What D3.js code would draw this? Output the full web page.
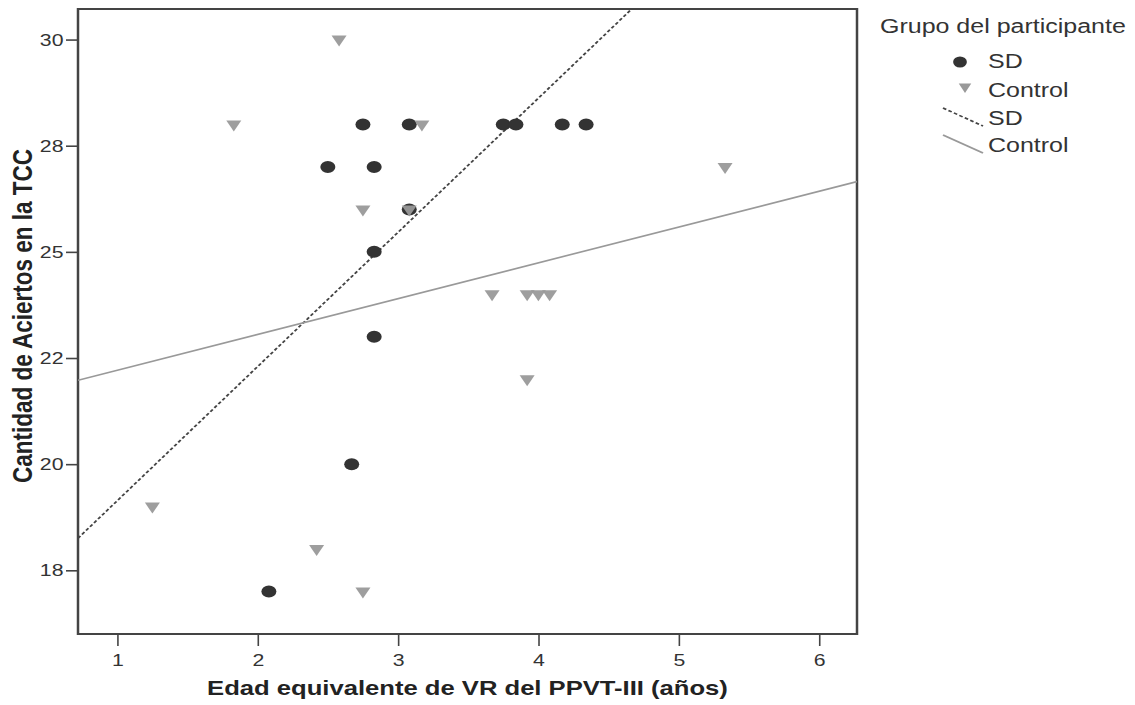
<!DOCTYPE html>
<html>
<head>
<meta charset="utf-8">
<script src="https://cdn.jsdelivr.net/npm/d3@7"></script>
<style>
  body { margin: 0; background: #fff; }
  text { font-family: "Liberation Sans", Arial, sans-serif; }
</style>
</head>
<body>
<script>
// datos
const sdX = [2.75, 3.08, 3.75, 3.84, 4.17, 4.34, 2.50, 2.83, 3.08, 2.83, 2.83, 2.67, 2.08];
const sdY = [28, 28, 28, 28, 28, 28, 27, 27, 26, 25, 23, 20, 17];
const ctrlX = [2.58, 1.83, 3.17, 2.75, 3.08, 5.33, 3.67, 3.92, 4.00, 4.08, 3.92, 1.25, 2.42, 2.75];
const ctrlY = [30, 28, 28, 26, 26, 27, 24, 24, 24, 24, 22, 19, 18, 17];
// recta de ajuste [intercepto, pendiente]
const fitSD = [15.98, 3.16];
const fitCtrl = [21.37, 0.843];
const xTicks = [1, 2, 3, 4, 5, 6];
const yTicks = [17.5, 20, 22.5, 25, 27.5, 30];
const yTickLabels = ["18", "20", "22", "25", "28", "30"];
const groups = ["SD", "Control"];

const W = 1135, H = 705;
const sx = 1.25; // la imagen esta estirada en horizontal
const vw = W / sx;

const svg = d3.select('body').append('svg')
  .attr('width', W).attr('height', H)
  .attr('viewBox', `0 0 ${vw} ${H}`)
  .attr('preserveAspectRatio', 'none');

const pLeft = 78 / sx, pRight = 857 / sx, pTop = 9, pBottom = 634;

const x = d3.scaleLinear().domain([0.72, 6.27]).range([pLeft, pRight]);
const y = d3.scaleLinear().domain([16.0, 30.72]).range([pBottom, pTop]);

svg.append('clipPath').attr('id', 'clip')
  .append('rect').attr('x', pLeft).attr('y', pTop)
  .attr('width', pRight - pLeft).attr('height', pBottom - pTop);

// marco
svg.append('rect')
  .attr('x', pLeft).attr('y', pTop)
  .attr('width', pRight - pLeft).attr('height', pBottom - pTop)
  .attr('fill', 'none').attr('stroke', '#444').attr('stroke-width', 2);

// ejes
const xAxis = svg.append('g')
  .attr('transform', `translate(0,${pBottom})`)
  .call(d3.axisBottom(x).tickValues(xTicks).tickSize(12).tickPadding(8).tickFormat(d3.format('d')));
const yAxis = svg.append('g')
  .attr('transform', `translate(${pLeft},0)`)
  .call(d3.axisLeft(y).tickValues(yTicks).tickSize(12 / sx).tickPadding(2)
    .tickFormat((d, i) => yTickLabels[i]));
[xAxis, yAxis].forEach(a => {
  a.select('.domain').remove();
  a.selectAll('line').attr('stroke', '#444');
  a.selectAll('text').attr('font-size', 17).attr('fill', '#333')
    .attr('font-family', '"Liberation Sans", Arial, sans-serif');
});
xAxis.selectAll('line').attr('stroke-width', 1.6 / sx);
yAxis.selectAll('line').attr('stroke-width', 1.6);

// rectas de ajuste
const plot = svg.append('g').attr('clip-path', 'url(#clip)');
const xs = x.domain();
plot.append('line')
  .attr('x1', x(xs[0])).attr('y1', y(fitSD[0] + fitSD[1] * xs[0]))
  .attr('x2', x(xs[1])).attr('y2', y(fitSD[0] + fitSD[1] * xs[1]))
  .attr('stroke', '#444').attr('stroke-width', 1.6).attr('stroke-dasharray', '3,2');
plot.append('line')
  .attr('x1', x(xs[0])).attr('y1', y(fitCtrl[0] + fitCtrl[1] * xs[0]))
  .attr('x2', x(xs[1])).attr('y2', y(fitCtrl[0] + fitCtrl[1] * xs[1]))
  .attr('stroke', '#999').attr('stroke-width', 1.6);

// puntos
const tri = 'M-6,-4L6,-4L0,7Z';
plot.selectAll('circle.sd').data(sdX.map((d, i) => [d, sdY[i]]))
  .enter().append('circle').attr('class', 'sd')
  .attr('cx', d => x(d[0])).attr('cy', d => y(d[1])).attr('r', 6)
  .attr('fill', '#333');
plot.selectAll('path.ctrl').data(ctrlX.map((d, i) => [d, ctrlY[i]]))
  .enter().append('path').attr('class', 'ctrl')
  .attr('d', tri)
  .attr('transform', d => `translate(${x(d[0])},${y(d[1])})`)
  .attr('fill', '#999').attr('fill-opacity', 0.95);

// titulos de ejes
svg.append('text')
  .attr('x', (pLeft + pRight) / 2).attr('y', 695)
  .attr('text-anchor', 'middle').attr('font-size', 20.5).attr('font-weight', 'bold')
  .attr('fill', '#222')
  .text('Edad equivalente de VR del PPVT-III (años)');
svg.append('text')
  .attr('transform', `translate(${32 / sx},316) rotate(-90)`)
  .attr('text-anchor', 'middle').attr('font-size', 22.5).attr('font-weight', 'bold')
  .attr('fill', '#222')
  .text('Cantidad de Aciertos en la TCC');

// leyenda
const lg = svg.append('g');
lg.append('text').attr('x', 880 / sx).attr('y', 33).attr('font-size', 20).attr('fill', '#333')
  .text('Grupo del participante');
lg.append('circle').attr('cx', 960 / sx).attr('cy', 62).attr('r', 5.5).attr('fill', '#333');
lg.append('path').attr('d', 'M-5,-3.5L5,-3.5L0,6Z')
  .attr('transform', `translate(${965 / sx},87)`).attr('fill', '#999');
lg.append('line').attr('x1', 943 / sx).attr('y1', 108).attr('x2', 983 / sx).attr('y2', 126)
  .attr('stroke', '#444').attr('stroke-width', 1.6).attr('stroke-dasharray', '3,2');
lg.append('line').attr('x1', 943 / sx).attr('y1', 135).attr('x2', 983 / sx).attr('y2', 153)
  .attr('stroke', '#999').attr('stroke-width', 1.6);
const labels = [groups[0], groups[1], groups[0], groups[1]];
const labelY = [68, 97, 125, 152];
lg.selectAll('text.item').data(labels).enter().append('text').attr('class', 'item')
  .attr('x', 988 / sx).attr('y', (d, i) => labelY[i])
  .attr('font-size', 20).attr('fill', '#333')
  .text(d => d);
</script>
</body>
</html>
